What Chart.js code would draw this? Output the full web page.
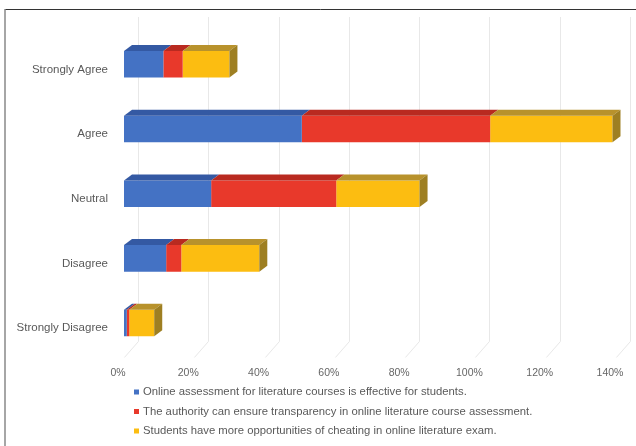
<!DOCTYPE html>
<html>
<head>
<meta charset="utf-8">
<script src="https://cdn.jsdelivr.net/npm/chart.js@4"></script>
<style>
html,body{margin:0;padding:0;background:#fff;}
#wrap{width:636px;height:446px;position:relative;}
</style>
</head>
<body>
<div id="wrap"><canvas id="c" width="636" height="446"></canvas></div>
<script>
const categories = ['Strongly Agree', 'Agree', 'Neutral', 'Disagree', 'Strongly Disagree'];
const seriesNames = [
  'Online assessment for literature courses is effective for students.',
  'The authority can ensure transparency in online literature course assessment.',
  'Students have more opportunities of cheating in online literature exam.'
];
const effective = [11.2, 50.6, 24.8, 12.0, 0.8];
const transparency = [5.5, 53.6, 35.6, 4.3, 0.7];
const cheating = [13.3, 34.8, 23.7, 22.2, 7.1];
const xTicks = [0, 20, 40, 60, 80, 100, 120, 140];

const frontColors = ['#4472c4', '#e8392b', '#fcbd11'];
const topColors = ['#3459a3', '#b92a20', '#b8922c'];
const sideColor = '#9e7f22';
const DX = 8, DY = 6;

const framePlugin = {
  id: 'frame',
  beforeDraw(chart) {
    const ctx = chart.ctx;
    ctx.save();
    ctx.fillStyle = '#fff';
    ctx.fillRect(0, 0, chart.width, chart.height);
    ctx.strokeStyle = '#333';
    ctx.lineWidth = 1;
    ctx.beginPath();
    ctx.moveTo(5, 9.5); ctx.lineTo(chart.width, 9.5);
    ctx.stroke();
    ctx.strokeStyle = '#888';
    ctx.lineWidth = 1.5;
    ctx.beginPath();
    ctx.moveTo(5, 9); ctx.lineTo(5, chart.height);
    ctx.stroke();
    ctx.restore();
  }
};

const gridPlugin = {
  id: 'grid3d',
  beforeDatasetsDraw(chart) {
    const ctx = chart.ctx;
    const xs = chart.scales.x;
    const area = chart.chartArea;
    ctx.save();
    ctx.strokeStyle = '#e8e8e8';
    ctx.lineWidth = 1;
    xTicks.forEach(v => {
      const px = Math.round(xs.getPixelForValue(v)) + 0.5;
      ctx.beginPath();
      ctx.moveTo(px + 14, 17);
      ctx.lineTo(px + 14, area.bottom - 14);
      ctx.lineTo(px, area.bottom + 2);
      ctx.stroke();
    });
    ctx.restore();
  }
};

const bar3dPlugin = {
  id: 'bar3d',
  afterDatasetsDraw(chart) {
    const ctx = chart.ctx;
    const n = chart.data.datasets.length;
    ctx.save();
    for (let d = 0; d < n; d++) {
      const meta = chart.getDatasetMeta(d);
      meta.data.forEach(el => {
        const p = el.getProps(['x', 'y', 'base', 'height'], true);
        const left = Math.min(p.x, p.base), right = Math.max(p.x, p.base);
        const top = p.y - p.height / 2, bottom = p.y + p.height / 2;
        ctx.fillStyle = topColors[d];
        ctx.beginPath();
        ctx.moveTo(left, top);
        ctx.lineTo(right, top);
        ctx.lineTo(right + DX, top - DY);
        ctx.lineTo(left + DX, top - DY);
        ctx.closePath();
        ctx.fill();
        if (d === n - 1) {
          ctx.fillStyle = sideColor;
          ctx.beginPath();
          ctx.moveTo(right, top);
          ctx.lineTo(right + DX, top - DY);
          ctx.lineTo(right + DX, bottom - DY);
          ctx.lineTo(right, bottom);
          ctx.closePath();
          ctx.fill();
        }
      });
    }
    ctx.restore();
  }
};

const legendPlugin = {
  id: 'customLegend',
  afterDraw(chart) {
    const ctx = chart.ctx;
    const rows = [392, 411.5, 431];
    ctx.save();
    ctx.font = '11.3px "Liberation Sans", Arial, sans-serif';
    ctx.textBaseline = 'middle';
    chart.data.datasets.forEach((ds, i) => {
      ctx.fillStyle = ds.backgroundColor;
      ctx.fillRect(134, rows[i] - 2.5, 5, 5);
      ctx.fillStyle = '#595959';
      ctx.fillText(ds.label, 143, rows[i]);
    });
    ctx.restore();
  }
};

new Chart(document.getElementById('c'), {
  type: 'bar',
  data: {
    labels: categories,
    datasets: [
      { label: seriesNames[0], data: effective, backgroundColor: frontColors[0] },
      { label: seriesNames[1], data: transparency, backgroundColor: frontColors[1] },
      { label: seriesNames[2], data: cheating, backgroundColor: frontColors[2] }
    ]
  },
  options: {
    indexAxis: 'y',
    responsive: false,
    animation: false,
    devicePixelRatio: 1,
    layout: { padding: { top: 32, right: 20, bottom: 56, left: 0 } },
    datasets: { bar: { categoryPercentage: 1, barPercentage: 0.41, borderWidth: 0 } },
    plugins: {
      legend: { display: false },
      tooltip: { enabled: false }
    },
    scales: {
      x: {
        stacked: true,
        min: 0,
        max: 140,
        grid: { display: false, drawTicks: false },
        border: { display: false },
        afterBuildTicks(scale) { scale.ticks = xTicks.map(v => ({ value: v })); },
        afterFit(scale) { scale.paddingRight = 0; scale.paddingLeft = 0; },
        ticks: {
          padding: 11,
          labelOffset: -6,
          color: '#666',
          font: { family: '"Liberation Sans", Arial, sans-serif', size: 10.5 },
          callback: v => v + '%'
        }
      },
      y: {
        stacked: true,
        grid: { display: false, drawTicks: false },
        border: { display: false },
        afterFit(scale) { scale.width = 124; },
        ticks: {
          padding: 16,
          labelOffset: 5,
          color: '#595959',
          font: { family: '"Liberation Sans", Arial, sans-serif', size: 11.5 }
        }
      }
    }
  },
  plugins: [framePlugin, gridPlugin, bar3dPlugin, legendPlugin]
});
</script>
</body>
</html>
